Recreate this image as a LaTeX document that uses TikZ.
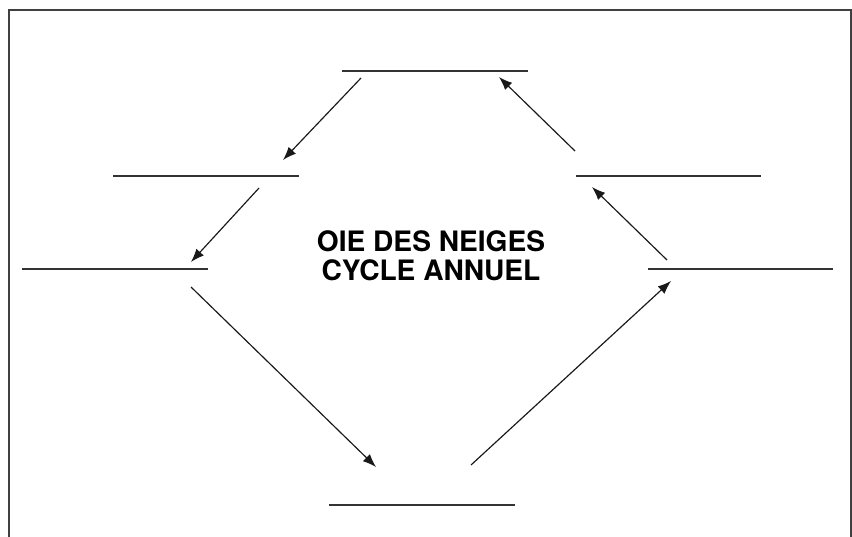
\documentclass[tikz,border=0pt]{standalone}
\usepackage{fontspec}
\setsansfont{TeX Gyre Heros}
\usepackage{tikz}
\usetikzlibrary{arrows.meta,calc}

\begin{document}
\begin{tikzpicture}[x=0.03cm,y=-0.03cm,
  blank/.style={line width=1.2pt,black!80},
  arr/.style={line width=1pt,black!90,-{Latex[length=4mm,width=3mm]}},
  every node/.style={font=\sffamily\bfseries}]
\useasboundingbox (0,0) rectangle (852,536);
\draw[line width=1.4pt,black!75] (9,545) -- (9,10) -- (851,10) -- (851,545);
% blanks
\draw[blank] (342,71) -- (528,71);
\draw[blank] (113,176) -- (299,176);
\draw[blank] (576,176) -- (761,176);
\draw[blank] (22,269) -- (208,269);
\draw[blank] (648,269) -- (833,269);
\draw[blank] (329,505) -- (515,505);
% title
\node[align=center,font=\sffamily\bfseries\fontsize{24}{25}\selectfont] (title) at (431,256) {OIE DES NEIGES\\CYCLE ANNUEL};
% arrow ends
\coordinate (ta) at (361,78);   \coordinate (tb) at (283,160);
\coordinate (ua) at (259,188);  \coordinate (ub) at (191,262);
\coordinate (la) at (191,287);  \coordinate (lb) at (376,467);
\coordinate (ba) at (471,465);  \coordinate (bb) at (671,281);
\coordinate (ra) at (667,260);  \coordinate (rb) at (592,187);
\coordinate (va) at (575,151);  \coordinate (vb) at (499,77);
\draw[arr] (ta) -- (tb);
\draw[arr] (ua) -- (ub);
\draw[arr] (la) -- (lb);
\draw[arr] (ba) -- (bb);
\draw[arr] (ra) -- (rb);
\draw[arr] (va) -- (vb);
\end{tikzpicture}
\end{document}
